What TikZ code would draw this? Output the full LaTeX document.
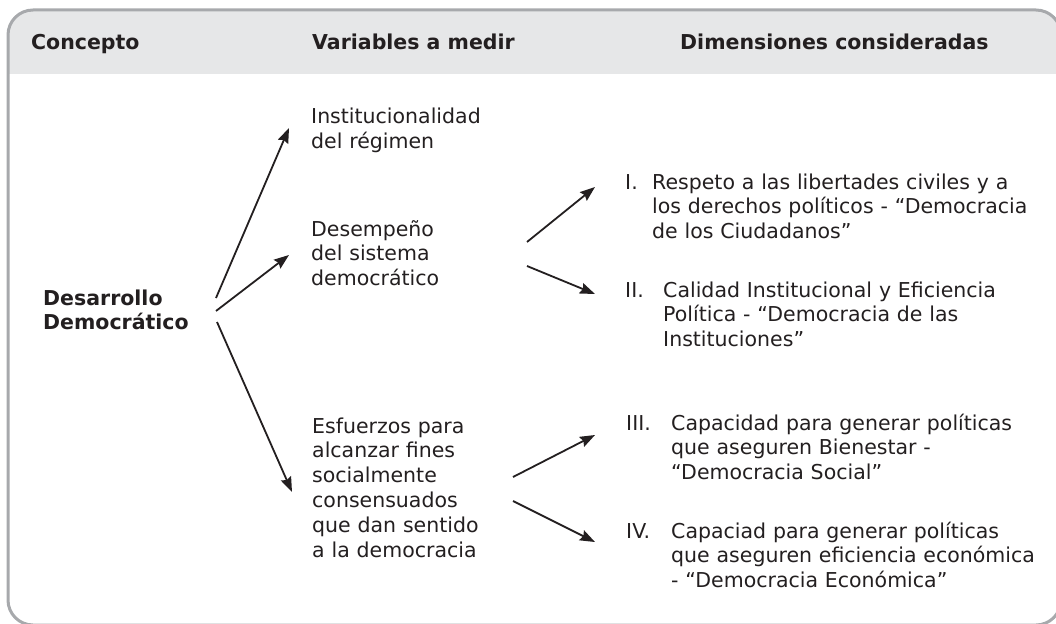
\documentclass[tikz,border=0pt]{standalone}
\usepackage{fontspec}
\setmainfont{DejaVu Sans}
\usetikzlibrary{arrows.meta}
\definecolor{ink}{HTML}{231F20}
\definecolor{framegray}{HTML}{A7A9AC}
\definecolor{headgray}{HTML}{E6E7E8}
\begin{document}
\begin{tikzpicture}[x=1pt,y=-1pt,
  txt/.style={anchor=base west, inner sep=0pt, text=ink,
    font=\fontsize{20.5}{24.8}\selectfont, align=left, text width=#1},
  txt/.default=390pt,
  bold/.style={font=\fontsize{20.5}{24.8}\selectfont\bfseries},
  hd/.style={anchor=base west, inner sep=0pt, text=ink,
    font=\fontsize{20.5}{24.8}\selectfont\bfseries},
  arr/.style={draw=ink, line width=1.8pt,
    -{Stealth[length=15pt,width=11pt,inset=2pt]}}]
\useasboundingbox (0,0) rectangle (1056,623);
\clip (0,0) rectangle (1056,623);
% frame and header band
\begin{scope}
  \clip[rounded corners=25pt] (8,10) rectangle (1061,625);
  \fill[headgray] (0,0) rectangle (1070,74);
\end{scope}
\draw[framegray, line width=3pt, rounded corners=25pt] (8,10) rectangle (1061,625);
% header
\node[hd] (h1) at (31,50) {Concepto};
\node[hd] (h2) at (312,50) {Variables a medir};
\node[hd] (h3) at (680,50) {Dimensiones consideradas};
% concept
\node[txt=200pt, bold] (dd) at (43,305) {Desarrollo\\Democrático};
% variables
\node[txt=250pt] (v1) at (311,124) {Institucionalidad\\del régimen};
\node[txt=250pt] (v2) at (311,236) {Desempeño\\del sistema\\democrático};
\node[txt=250pt] (v3) at (312,433) {Esfuerzos para\\alcanzar fines\\socialmente\\consensuados\\que dan sentido\\a la democracia};
% dimensions
\node[txt=40pt] (l1) at (625,189) {I.};
\node[txt] (d1) at (652,189) {Respeto a las libertades civiles y a\\los derechos políticos - “Democracia\\de los Ciudadanos”};
\node[txt=40pt] (l2) at (625,297) {II.};
\node[txt] (d2) at (663,297) {Calidad Institucional y Eficiencia\\Política - “Democracia de las\\Instituciones”};
\node[txt=40pt] (l3) at (626,430) {III.};
\node[txt] (d3) at (671,430) {Capacidad para generar políticas\\que aseguren Bienestar -\\“Democracia Social”};
\node[txt=40pt] (l4) at (626,538) {IV.};
\node[txt] (d4) at (671,538) {Capaciad para generar políticas\\que aseguren eficiencia económica\\- “Democracia Económica”};
% connector ends
\coordinate (dd-o1) at (216,298); \coordinate (v1-i) at (289,128);
\coordinate (dd-o2) at (216,311); \coordinate (v2-i) at (289,255);
\coordinate (dd-o3) at (217,322); \coordinate (v3-i) at (292,492);
\coordinate (v2-o1) at (527,242); \coordinate (d1-i) at (595,187);
\coordinate (v2-o2) at (527,266); \coordinate (d2-i) at (595,294);
\coordinate (v3-o1) at (513,477); \coordinate (d3-i) at (595,435);
\coordinate (v3-o2) at (513,501); \coordinate (d4-i) at (595,542);
% connectors
\draw[arr] (dd-o1) -- (v1-i);
\draw[arr] (dd-o2) -- (v2-i);
\draw[arr] (dd-o3) -- (v3-i);
\draw[arr] (v2-o1) -- (d1-i);
\draw[arr] (v2-o2) -- (d2-i);
\draw[arr] (v3-o1) -- (d3-i);
\draw[arr] (v3-o2) -- (d4-i);
\end{tikzpicture}
\end{document}
